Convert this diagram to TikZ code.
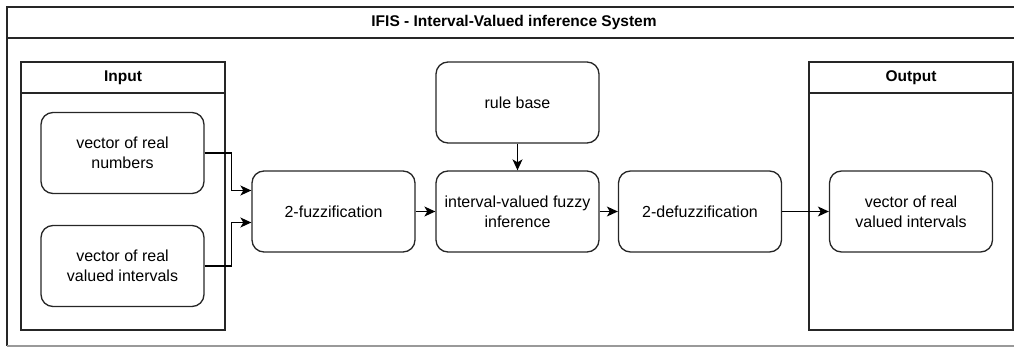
\documentclass[tikz,border=0pt]{standalone}
\usepackage{fontspec}
\setmainfont{Liberation Sans}
\usetikzlibrary{calc}
\usetikzlibrary{arrows.meta}

\begin{document}
\begin{tikzpicture}[x=1pt,y=-1pt,line width=1.3pt,font=\fontsize{16}{20}\selectfont]
	\tikzstyle{blk}=[draw=black!85,rounded corners=12pt,minimum width=163pt,minimum height=81pt,align=center,inner sep=2pt];
	\tikzstyle{pool}=[draw=black!85,rectangle,minimum width=204pt,minimum height=268pt,inner sep=0pt];
	\tikzstyle{head}=[font=\fontsize{15.5}{18}\selectfont\bfseries];
	\tikzstyle{flow}=[draw=black,-{Stealth[length=11pt,width=10pt,inset=3pt]}];
	\useasboundingbox (0,0) rectangle (1014,347);
	\clip (0,0) rectangle (1014,347);
	%% Frame
	\draw[black!85] (1030,7) -- (7,7) -- (7,346);
	\draw[black!40] (7,346) -- (1030,346);
	\draw[black!85] (7,38) -- (1030,38);
	\node[head] (title) at (514,22.5) {IFIS - Interval-Valued inference System};
	%% Pools
	\node[pool] (in)  at (123,196) {};
	\node[pool] (out) at (911,196) {};
	\draw[black!85] (21,93)  -- (225,93);
	\draw[black!85] (809,93) -- (1013,93);
	\node[head] (inlab)  at (123,77.5) {Input};
	\node[head] (outlab) at (911,77.5) {Output};
	%% Blocks
	\node[blk] (vnum)   at (122.5,153)   {vector of real\\numbers};
	\node[blk] (vint)   at (122.5,266)   {vector of real\\valued intervals};
	\node[blk] (fuzz)   at (333.5,211.5) {2-fuzzification};
	\node[blk] (infer)  at (517.5,211.5) {interval-valued fuzzy\\inference};
	\node[blk] (rules)  at (517.5,102.5) {rule base};
	\node[blk] (defuzz) at (700,211.5)   {2-defuzzification};
	\node[blk] (vout)   at (911,211.5)   {vector of real\\valued intervals};
	%% Arrows
	\draw[flow] (vnum.east) -- ++(27,0) |- ($(fuzz.west)+(0,-21)$);
	\draw[flow] (vint.east) -- ++(27,0) |- ($(fuzz.west)+(0,11)$);
	\draw[flow] (rules) -- (infer);
	\draw[flow] (fuzz) -- (infer);
	\draw[flow] (infer) -- (defuzz);
	\draw[flow] (defuzz) -- (vout);
\end{tikzpicture}
\end{document}
